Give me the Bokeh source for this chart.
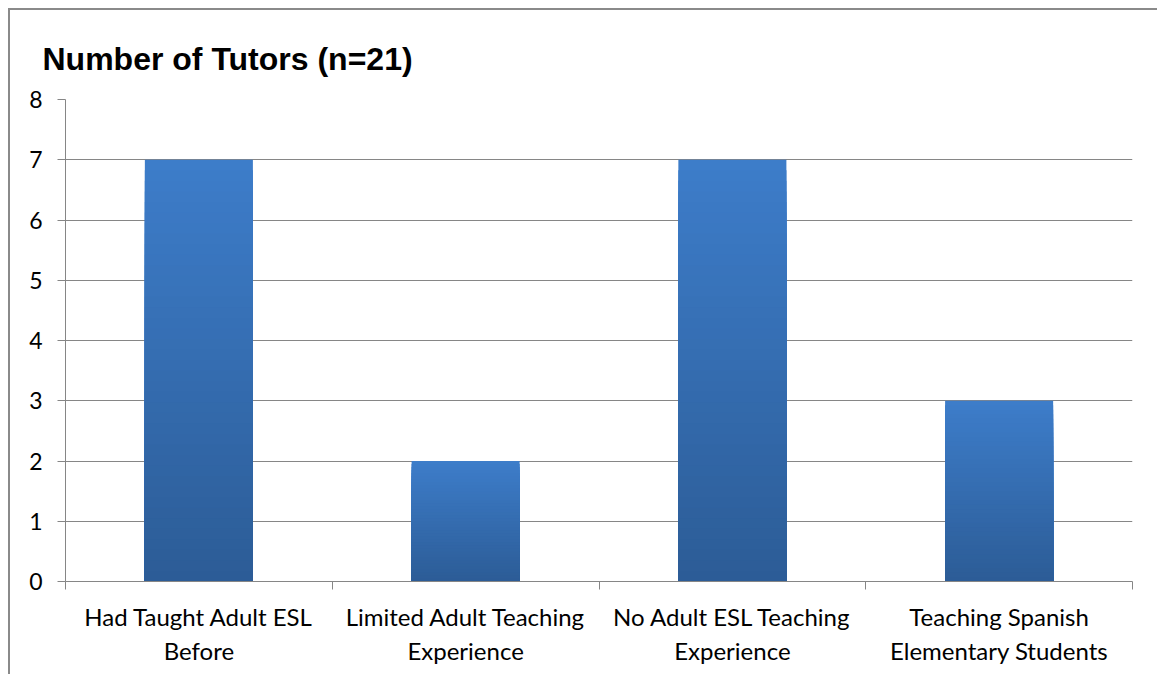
from bokeh.plotting import figure
from bokeh.models import FixedTicker, Range1d, Title
from bokeh.embed import file_html
from bokeh.resources import INLINE

categories = ["Had Taught Adult ESL\nBefore", "Limited Adult Teaching\nExperience",
              "No Adult ESL Teaching\nExperience", "Teaching Spanish\nElementary Students"]
values = [7, 2, 7, 3]
y_ticks = [0, 1, 2, 3, 4, 5, 6, 7, 8]

TOP = (61, 125, 202)
BOT = (44, 92, 150)
N = 40

p = figure(width=1149, height=666, output_backend="svg", toolbar_location=None,
           x_range=Range1d(0, len(categories)), y_range=Range1d(0, 8),
           min_border_left=55, min_border_right=27, min_border_top=89, min_border_bottom=95)
p.styles = {"margin-left": "8px", "margin-top": "8px",
            "border-left": "2px solid #8a8a8a", "border-top": "2px solid #8a8a8a"}
p.outline_line_color = None
p.background_fill_color = "white"
p.border_fill_color = "white"

# gradient bars: nested full-height layers, lightest (tallest) first, darker shorter layers on top
xs, tops, cols = [], [], []
for k in range(N - 1, -1, -1):
    t = (k + 0.5) / N
    c = tuple(int(round(BOT[j] + (TOP[j] - BOT[j]) * t)) for j in range(3))
    for i, v in enumerate(values):
        xs.append(i + 0.5)
        tops.append(v * (k + 1) / N)
        cols.append("#%02x%02x%02x" % c)
p.vbar(x=xs, bottom=0, top=tops, width=0.405, fill_color=cols, line_color=None)

# title
t = Title(text="Number of Tutors (n=21)", text_font="Liberation Sans", text_font_size="32px",
          text_font_style="bold", text_color="black", align="left", offset=-23, standoff=46)
p.add_layout(t, "above")

# y axis
p.yaxis.ticker = FixedTicker(ticks=y_ticks)
p.yaxis.axis_line_color = "#868686"
p.yaxis.major_tick_line_color = "#868686"
p.yaxis.major_tick_out = 8
p.yaxis.major_tick_in = 0
p.yaxis.minor_tick_line_color = None
p.yaxis.major_label_text_font = "Lato"
p.yaxis.major_label_text_font_size = "23px"
p.yaxis.major_label_text_color = "black"
p.yaxis.major_label_standoff = 15

p.ygrid.ticker = FixedTicker(ticks=y_ticks[1:])
p.ygrid.grid_line_color = "#868686"
p.ygrid.grid_line_width = 1
p.xgrid.grid_line_color = None

# x axis: labels at centers, ticks at boundaries
centers = [i + 0.5 for i in range(len(categories))]
p.xaxis.ticker = FixedTicker(ticks=centers, minor_ticks=list(range(len(categories) + 1)))
p.xaxis.major_label_overrides = {c: lab for c, lab in zip(centers, categories)}
p.xaxis.axis_line_color = "#868686"
p.xaxis.major_tick_line_color = None
p.xaxis.minor_tick_line_color = "#868686"
p.xaxis.minor_tick_out = 8
p.xaxis.minor_tick_in = 0
p.xaxis.major_label_text_font = "Lato"
p.xaxis.major_label_text_font_size = "24px"
p.xaxis.major_label_text_color = "black"
p.xaxis.major_label_standoff = 12

open("out.html", "w").write(file_html(p, INLINE))
